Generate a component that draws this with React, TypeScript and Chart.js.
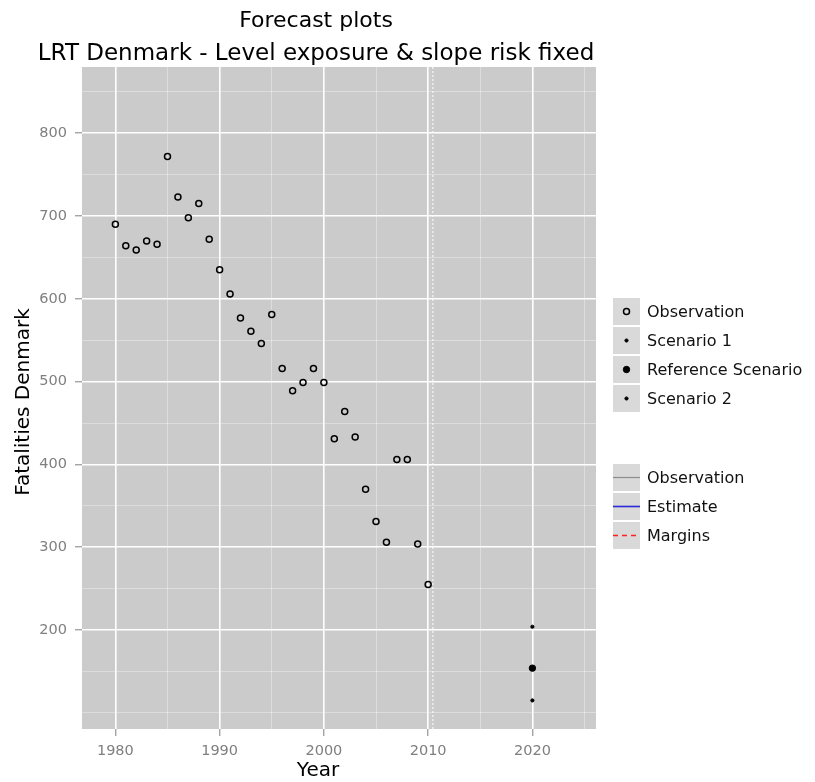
import React, { useEffect, useRef } from 'react';
import { Chart, registerables } from 'chart.js';

Chart.register(...registerables);

// ---------- data ----------
const observationYears = [
  1980, 1981, 1982, 1983, 1984, 1985, 1986, 1987, 1988, 1989,
  1990, 1991, 1992, 1993, 1994, 1995, 1996, 1997, 1998, 1999,
  2000, 2001, 2002, 2003, 2004, 2005, 2006, 2007, 2008, 2009, 2010,
];
const observationFatalities = [
  690, 664, 659, 670, 666, 772, 723, 698, 715, 672,
  635, 606, 577, 561, 546, 581, 516, 489, 499, 516,
  499, 431, 464, 433, 370, 331, 306, 406, 406, 304, 255,
];
const scenarioYear = 2020;
const scenario1Value = 204;
const referenceScenarioValue = 154;
const scenario2Value = 115;
const forecastStart = 2010.45;

const xMajorTicks = [1980, 1990, 2000, 2010, 2020];
const xMinorTicks = [1985, 1995, 2005, 2015, 2025];
const yMajorTicks = [200, 300, 400, 500, 600, 700, 800];
const yMinorTicks = [100, 150, 250, 350, 450, 550, 650, 750, 850];

const xRange = [1976.8, 2026.1];
const yRange = [80.5, 880];

const titleLines = ['Forecast plots', 'LRT Denmark - Level exposure & slope risk fixed'];
const xAxisTitle = 'Year';
const yAxisTitle = 'Fatalities Denmark';

// ---------- style ----------
const FONT = "'DejaVu Sans', 'Liberation Sans', sans-serif";
const PANEL_BG = '#cbcbcb';
const KEY_BG = '#d9d9d9';
const TICK_COLOR = '#7f7f7f';

const legendLayout = {
  keyX: 612,
  keyW: 29,
  rowH: 29,
  textX: 647,
  groupTops: { points: 297, lines: 463 } as Record<string, number>,
};

const decorPlugin = {
  id: 'ggDecor',
  beforeDraw(chart: any) {
    const { ctx, chartArea: a } = chart;
    ctx.save();
    ctx.fillStyle = PANEL_BG;
    ctx.fillRect(a.left, a.top, a.right - a.left, a.bottom - a.top);
    ctx.restore();
  },
  afterDraw(chart: any) {
    const { ctx } = chart;
    ctx.save();
    // titles
    ctx.fillStyle = '#000';
    ctx.textAlign = 'center';
    ctx.textBaseline = 'middle';
    ctx.font = `22px ${FONT}`;
    ctx.fillText(titleLines[0], 316, 21);
    ctx.font = `23px ${FONT}`;
    ctx.fillText(titleLines[1], 316, 54);
    // axis titles
    ctx.font = `20px ${FONT}`;
    ctx.fillText(xAxisTitle, 318, 771);
    ctx.save();
    ctx.translate(24, 402);
    ctx.rotate(-Math.PI / 2);
    ctx.fillText(yAxisTitle, 0, 0);
    ctx.restore();

    // legends
    const groups: Record<string, any[]> = {};
    chart.data.datasets.forEach((ds: any) => {
      if (!ds.legendGroup) return;
      (groups[ds.legendGroup] = groups[ds.legendGroup] || []).push(ds);
    });
    Object.keys(groups).forEach((g) => {
      const top = legendLayout.groupTops[g];
      groups[g].forEach((ds: any, i: number) => {
        const y0 = top + i * legendLayout.rowH;
        const cy = y0 + legendLayout.rowH / 2;
        const cx = legendLayout.keyX + legendLayout.keyW / 2;
        ctx.fillStyle = KEY_BG;
        ctx.fillRect(legendLayout.keyX, y0, legendLayout.keyW, legendLayout.rowH);
        ctx.strokeStyle = '#ffffff';
        ctx.lineWidth = 1;
        ctx.strokeRect(legendLayout.keyX + 0.5, y0 + 0.5, legendLayout.keyW - 1, legendLayout.rowH - 1);
        if (ds.legendKind === 'point') {
          ctx.beginPath();
          ctx.arc(cx, cy, ds.pointRadius, 0, Math.PI * 2);
          if (ds.backgroundColor && ds.backgroundColor !== 'rgba(0,0,0,0)') {
            ctx.fillStyle = ds.backgroundColor;
            ctx.fill();
          }
          ctx.strokeStyle = ds.borderColor;
          ctx.lineWidth = ds.borderWidth;
          ctx.stroke();
        } else {
          ctx.beginPath();
          ctx.setLineDash(ds.borderDash || []);
          ctx.moveTo(legendLayout.keyX + 1, cy);
          ctx.lineTo(legendLayout.keyX + legendLayout.keyW - 1, cy);
          ctx.strokeStyle = ds.borderColor;
          ctx.lineWidth = ds.borderWidth;
          ctx.stroke();
          ctx.setLineDash([]);
        }
        ctx.fillStyle = '#111';
        ctx.textAlign = 'left';
        ctx.textBaseline = 'middle';
        ctx.font = `16px ${FONT}`;
        ctx.fillText(ds.label, legendLayout.textX, cy + 1);
      });
    });
    ctx.restore();
  },
};

export default function App() {
  const canvasRef = useRef<HTMLCanvasElement | null>(null);

  useEffect(() => {
    const canvas = canvasRef.current;
    if (!canvas) return;

    const datasets: any[] = [
      {
        label: 'forecast start',
        type: 'line',
        data: [
          { x: forecastStart, y: yRange[0] },
          { x: forecastStart, y: yRange[1] },
        ],
        borderColor: 'rgba(250,250,250,0.95)',
        borderWidth: 1.2,
        borderDash: [2, 2],
        pointRadius: 0,
        showLine: true,
      },
      {
        label: 'Observation',
        legendGroup: 'points',
        legendKind: 'point',
        data: observationYears.map((x, i) => ({ x, y: observationFatalities[i] })),
        backgroundColor: 'rgba(0,0,0,0)',
        borderColor: '#000000',
        borderWidth: 1.5,
        pointRadius: 3,
      },
      {
        label: 'Scenario 1',
        legendGroup: 'points',
        legendKind: 'point',
        data: [{ x: scenarioYear, y: scenario1Value }],
        backgroundColor: '#000000',
        borderColor: '#000000',
        borderWidth: 1,
        pointRadius: 1.6,
      },
      {
        label: 'Reference Scenario',
        legendGroup: 'points',
        legendKind: 'point',
        data: [{ x: scenarioYear, y: referenceScenarioValue }],
        backgroundColor: '#000000',
        borderColor: '#000000',
        borderWidth: 1,
        pointRadius: 3.2,
      },
      {
        label: 'Scenario 2',
        legendGroup: 'points',
        legendKind: 'point',
        data: [{ x: scenarioYear, y: scenario2Value }],
        backgroundColor: '#000000',
        borderColor: '#000000',
        borderWidth: 1,
        pointRadius: 1.6,
      },
      {
        label: 'Observation',
        type: 'line',
        legendGroup: 'lines',
        legendKind: 'line',
        data: [],
        borderColor: '#8c8c8c',
        borderWidth: 1.2,
        pointRadius: 0,
      },
      {
        label: 'Estimate',
        type: 'line',
        legendGroup: 'lines',
        legendKind: 'line',
        data: [],
        borderColor: '#2a2ad6',
        borderWidth: 1.6,
        pointRadius: 0,
      },
      {
        label: 'Margins',
        type: 'line',
        legendGroup: 'lines',
        legendKind: 'line',
        data: [],
        borderColor: '#ff2020',
        borderWidth: 1.6,
        borderDash: [5, 4],
        pointRadius: 0,
      },
    ];

    const isMajor = (list: number[]) => (ctx: any) => list.includes(ctx.tick?.value);

    const chart = new Chart(canvas, {
      type: 'scatter',
      data: { datasets },
      options: {
        responsive: false,
        devicePixelRatio: 1,
        animation: false,
        events: [],
        layout: { padding: { top: 67, left: 0, right: 219, bottom: 0 } },
        plugins: {
          legend: { display: false },
          title: { display: false },
          tooltip: { enabled: false },
        },
        scales: {
          x: {
            type: 'linear',
            min: xRange[0],
            max: xRange[1],
            afterFit: (s: any) => { s.height = 53; },
            afterBuildTicks: (s: any) => {
              s.ticks = [...xMajorTicks, ...xMinorTicks].sort((a, b) => a - b).map((v) => ({ value: v }));
            },
            ticks: {
              autoSkip: false,
              maxRotation: 0,
              padding: 7,
              color: TICK_COLOR,
              font: { family: FONT, size: 14.5 },
              callback: (v: any) => (xMajorTicks.includes(v) ? String(v) : ''),
            },
            grid: {
              color: (c: any) => (isMajor(xMajorTicks)(c) ? '#ffffff' : 'rgba(255,255,255,0.5)'),
              lineWidth: (c: any) => (isMajor(xMajorTicks)(c) ? 1.6 : 0.7),
              tickColor: (c: any) => (isMajor(xMajorTicks)(c) ? TICK_COLOR : 'rgba(0,0,0,0)'),
              tickLength: 7,
              tickWidth: 1,
            },
            border: { display: false },
          },
          y: {
            type: 'linear',
            min: yRange[0],
            max: yRange[1],
            afterFit: (s: any) => { s.width = 82; },
            afterBuildTicks: (s: any) => {
              s.ticks = [...yMajorTicks, ...yMinorTicks].sort((a, b) => a - b).map((v) => ({ value: v }));
            },
            ticks: {
              autoSkip: false,
              padding: 8,
              color: TICK_COLOR,
              font: { family: FONT, size: 14.5 },
              callback: (v: any) => (yMajorTicks.includes(v) ? String(v) : ''),
            },
            grid: {
              color: (c: any) => (isMajor(yMajorTicks)(c) ? '#ffffff' : 'rgba(255,255,255,0.5)'),
              lineWidth: (c: any) => (isMajor(yMajorTicks)(c) ? 1.6 : 0.7),
              tickColor: (c: any) => (isMajor(yMajorTicks)(c) ? TICK_COLOR : 'rgba(0,0,0,0)'),
              tickLength: 7,
              tickWidth: 1,
            },
            border: { display: false },
          },
        },
      } as any,
      plugins: [decorPlugin],
    });

    return () => chart.destroy();
  }, []);

  return (
    <div style={{ position: 'fixed', left: 0, top: 0, width: 815, height: 782, background: '#ffffff' }}>
      <canvas ref={canvasRef} width={815} height={782} style={{ width: 815, height: 782, display: 'block' }} />
    </div>
  );
}
